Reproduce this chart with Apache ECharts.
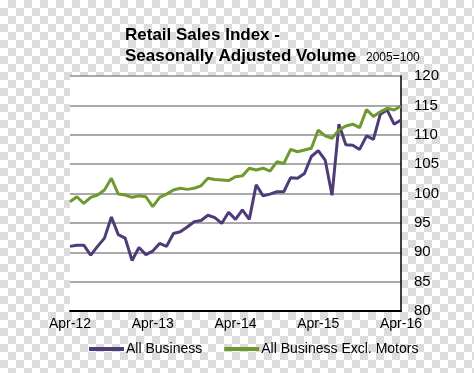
<!DOCTYPE html>
<html>
<head>
<meta charset="utf-8">
<script src="https://cdn.jsdelivr.net/npm/echarts@6/dist/echarts.min.js"></script>
<style>
html,body{margin:0;padding:0;}
body{
  width:474px;height:373px;overflow:hidden;
  background-color:#fff;
  background-image:
    linear-gradient(45deg,#dcdcdc 25%,transparent 25%,transparent 75%,#dcdcdc 75%),
    linear-gradient(45deg,#dcdcdc 25%,transparent 25%,transparent 75%,#dcdcdc 75%);
  background-size:16px 16px;
  background-position:0 0,8px 8px;
}
#c{width:474px;height:373px;}
</style>
</head>
<body>
<div id="c"></div>
<script>
var categories = [
  "Apr-12","May-12","Jun-12","Jul-12","Aug-12","Sep-12","Oct-12","Nov-12","Dec-12","Jan-13","Feb-13","Mar-13",
  "Apr-13","May-13","Jun-13","Jul-13","Aug-13","Sep-13","Oct-13","Nov-13","Dec-13","Jan-14","Feb-14","Mar-14",
  "Apr-14","May-14","Jun-14","Jul-14","Aug-14","Sep-14","Oct-14","Nov-14","Dec-14","Jan-15","Feb-15","Mar-15",
  "Apr-15","May-15","Jun-15","Jul-15","Aug-15","Sep-15","Oct-15","Nov-15","Dec-15","Jan-16","Feb-16","Mar-16",
  "Apr-16"
];
var allBusiness = [
  91.0, 91.2, 91.2, 89.5, 91.0, 92.4, 96.0, 93.0, 92.4, 88.6, 90.8, 89.6,
  90.2, 91.5, 91.0, 93.2, 93.5, 94.3, 95.2, 95.4, 96.3, 95.9, 94.9, 96.8,
  95.6, 97.2, 95.6, 101.5, 99.6, 99.9, 100.3, 100.3, 102.7, 102.6, 103.4, 106.3,
  107.3, 105.7, 99.7, 111.8, 108.3, 108.2, 107.5, 109.8, 109.2, 113.5, 114.2, 111.8,
  112.5
];
var exclMotors = [
  98.6, 99.45, 98.3, 99.35, 99.75, 100.6, 102.6, 99.9, 99.75, 99.35, 99.6, 99.45,
  97.75, 99.35, 99.9, 100.6, 100.9, 100.7, 100.9, 101.3, 102.6, 102.4, 102.3, 102.2,
  102.85, 103.0, 104.3, 104.0, 104.3, 103.8, 105.4, 105.1, 107.5, 107.1, 107.4, 107.7,
  110.8, 109.8, 109.4, 110.8, 111.5, 111.8, 111.2, 114.3, 113.1, 113.9, 114.5, 114.2,
  114.9
];
var seriesNames = ["All Business", "All Business Excl. Motors"];
var titleLines = ["Retail Sales Index -", "Seasonally Adjusted Volume"];
var subTitle = "2005=100";

var chart = echarts.init(document.getElementById('c'), null, {renderer:'canvas'});
var font = 'Arial, "Liberation Sans", sans-serif';
chart.setOption({
  backgroundColor: 'transparent',
  animation: false,
  title: [
    {
      text: titleLines.join('\n'),
      left: 120, top: 20,
      textStyle: {fontFamily: font, fontSize: 17, fontWeight: 'bold', color: '#000', lineHeight: 21}
    },
    {
      text: subTitle,
      left: 361, top: 47,
      textStyle: {fontFamily: font, fontSize: 12, fontWeight: 'normal', color: '#000', lineHeight: 12}
    }
  ],
  legend: {
    data: seriesNames,
    left: 84, top: 337,
    icon: 'rect',
    itemWidth: 35, itemHeight: 4,
    itemGap: 22,
    textStyle: {fontFamily: font, fontSize: 14, color: '#000', padding: [0,0,0,-3]}
  },
  grid: {
    left: 70, right: 73, top: 76, bottom: 62,
    show: true, backgroundColor: '#fff', borderWidth: 0
  },
  xAxis: {
    type: 'category',
    data: categories,
    boundaryGap: false,
    axisLine: {lineStyle: {color: '#000', width: 2}},
    axisTick: {show: false},
    axisLabel: {interval: 11, margin: 6, fontFamily: font, fontSize: 14, color: '#000', showMaxLabel: true}
  },
  yAxis: {
    type: 'value',
    position: 'right',
    min: 80, max: 120, interval: 5,
    axisLine: {show: true, lineStyle: {color: '#000', width: 1.5}},
    axisTick: {show: false},
    splitLine: {lineStyle: {color: '#8c8c8c', width: 1.5}},
    axisLabel: {margin: 13, fontFamily: font, fontSize: 15, color: '#000'}
  },
  series: [
    {
      name: seriesNames[0], type: 'line', data: allBusiness,
      showSymbol: false, symbol: 'none',
      lineStyle: {color: '#4e3c78', width: 3},
      itemStyle: {color: '#4e3c78'}
    },
    {
      name: seriesNames[1], type: 'line', data: exclMotors,
      showSymbol: false, symbol: 'none',
      lineStyle: {color: '#6e9a30', width: 3},
      itemStyle: {color: '#6e9a30'}
    }
  ]
});
</script>
</body>
</html>
